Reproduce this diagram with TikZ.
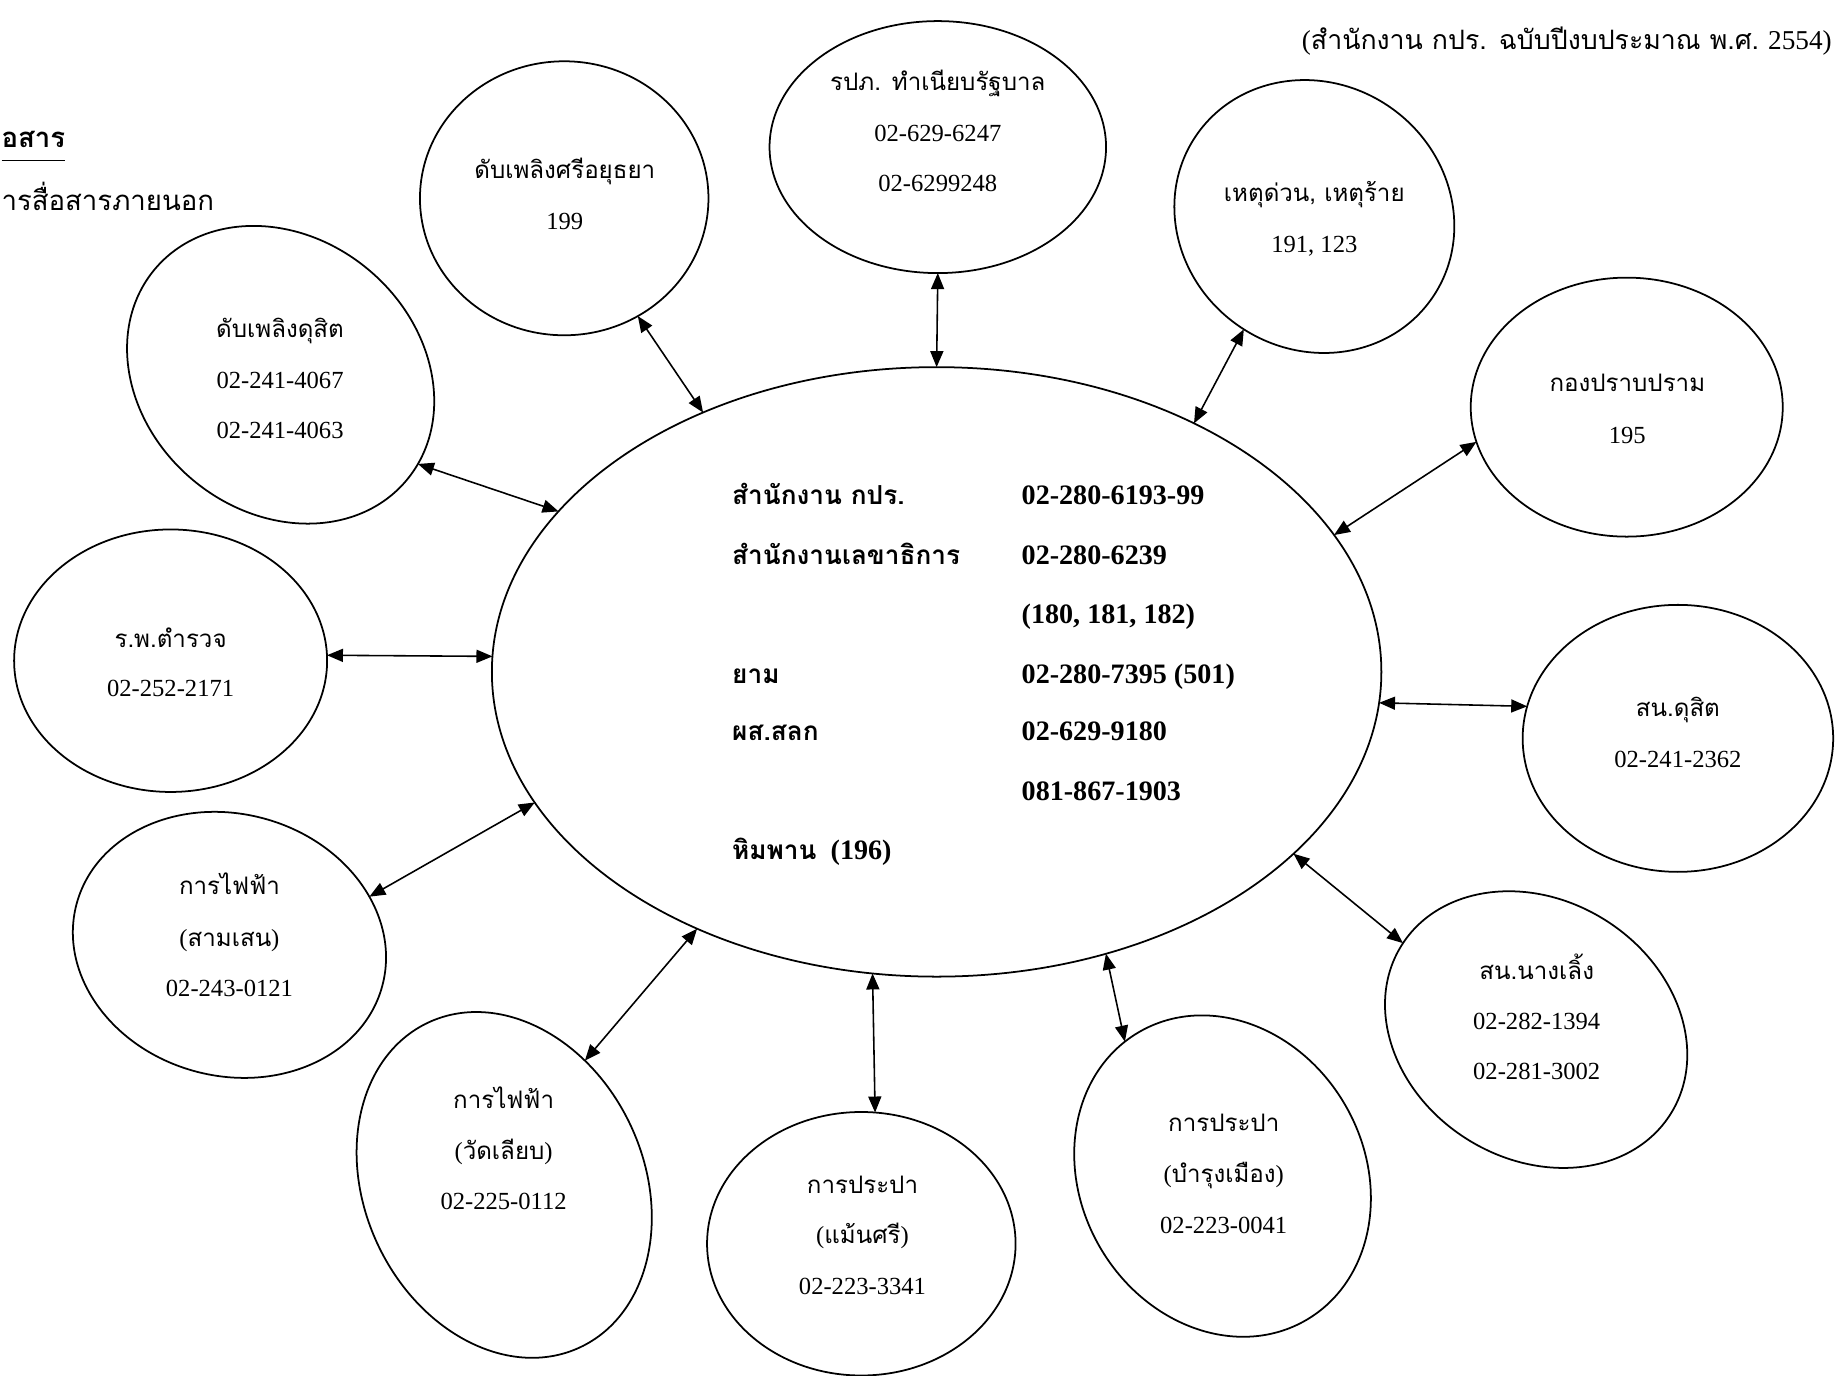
\documentclass[tikz,border=0pt]{standalone}
\usepackage{fontspec}
\setmainfont{Liberation Serif}
\newfontfamily\thaifont[Script=Thai,Scale=0.98]{Loma}
\newcommand\tha[1]{{\thaifont #1}}
\newcommand\thb[1]{{\fontsize{15.2}{18}\selectfont\thaifont #1}}
\usetikzlibrary{shapes.geometric,arrows.meta}
\begin{document}
\begin{tikzpicture}[x=0.23533mm,y=-0.23533mm,
  oval/.style={draw, ellipse, line width=1pt, inner sep=0pt, outer sep=0pt},
  conn/.style={line width=0.9pt, {Triangle[length=3.2mm,width=2.6mm]}-{Triangle[length=3.2mm,width=2.6mm]}},
  lbl/.style={inner sep=0pt, anchor=base, font=\fontsize{14}{16}\selectfont},
  big/.style={inner sep=0pt, anchor=base west, font=\bfseries\fontsize{16}{19}\selectfont}]
\useasboundingbox (0,0) rectangle (1568,1168.6);

% ellipses
\node[oval, minimum width=177.9mm, minimum height=121.9mm] (C) at (796,571) {};
\node[oval, minimum width=65.7mm, minimum height=54.8mm, rotate=-40] (E1) at (238.5,318.5) {};
\node[oval, minimum width=57.7mm, minimum height=54.8mm] (E2) at (479.5,168.5) {};
\node[oval, minimum width=67.3mm, minimum height=50.4mm] (E3) at (797,125) {};
\node[oval, minimum width=57.3mm, minimum height=53.2mm, rotate=-35] (E4) at (1117,184) {};
\node[oval, minimum width=62.4mm, minimum height=51.8mm] (E5) at (1382.5,346) {};
\node[oval, minimum width=62.1mm, minimum height=53.4mm] (E6) at (1426,627.5) {};
\node[oval, minimum width=63.5mm, minimum height=51.8mm, rotate=-32] (E7) at (1305.5,875) {};
\node[oval, minimum width=66.6mm, minimum height=56.7mm, rotate=-60] (E8) at (1039,999.5) {};
\node[oval, minimum width=61.7mm, minimum height=52.7mm] (E9) at (732,1057) {};
\node[oval, minimum width=71.7mm, minimum height=55.9mm, rotate=-65] (E10) at (428.5,1007) {};
\node[oval, minimum width=63.3mm, minimum height=52.4mm, rotate=-15] (E11) at (195,803) {};
\node[oval, minimum width=62.6mm, minimum height=52.5mm] (E12) at (145,561.5) {};

% connectors
\draw[conn] (E1.7) -- (C.157);
\draw[conn] (E2.-58) -- (C.132);
\draw[conn] (E3.-90) -- (C.90);
\draw[conn] (E4.-87) -- (C.44);
\draw[conn] (E5.193) -- (C.19);
\draw[conn] (E6.168) -- (C.-4);
\draw[conn] (E7.179) -- (C.-27);
\draw[conn] (E8.186) -- (C.-59);
\draw[conn] (E9.84) -- (C.-102);
\draw[conn] (E10.122) -- (C.-133);
\draw[conn] (E11.34) -- (C.198);
\draw[conn] (E12.2) -- (C.178);

% small ellipse texts
\node[lbl] (t1a) at (238,287) {\tha{ดับเพลิงดุสิต}};
\node[lbl] (t1b) at (238,330) {02-241-4067};
\node[lbl] (t1c) at (238,373) {02-241-4063};
\node[lbl] (t2a) at (480,152) {\tha{ดับเพลิงศรีอยุธยา}};
\node[lbl] (t2b) at (480,195) {199};
\node[lbl] (t3a) at (797,77) {\tha{รปภ. ทำเนียบรัฐบาล}};
\node[lbl] (t3b) at (797,120) {02-629-6247};
\node[lbl] (t3c) at (797,163) {02-6299248};
\node[lbl] (t4a) at (1117,171) {\tha{เหตุด่วน, เหตุร้าย}};
\node[lbl] (t4b) at (1117,215) {191, 123};
\node[lbl] (t5a) at (1383,333) {\tha{กองปราบปราม}};
\node[lbl] (t5b) at (1383,377) {195};
\node[lbl] (t6a) at (1426,609) {\tha{สน.ดุสิต}};
\node[lbl] (t6b) at (1426,652) {02-241-2362};
\node[lbl] (t7a) at (1306,832) {\tha{สน.นางเลิ้ง}};
\node[lbl] (t7b) at (1306,875) {02-282-1394};
\node[lbl] (t7c) at (1306,917) {02-281-3002};
\node[lbl] (t8a) at (1040,962) {\tha{การประปา}};
\node[lbl] (t8b) at (1040,1005) {(\tha{บำรุงเมือง})};
\node[lbl] (t8c) at (1040,1048) {02-223-0041};
\node[lbl] (t9a) at (733,1014) {\tha{การประปา}};
\node[lbl] (t9b) at (733,1057) {(\tha{แม้นศรี})};
\node[lbl] (t9c) at (733,1100) {02-223-3341};
\node[lbl] (t10a) at (428,942) {\tha{การไฟฟ้า}};
\node[lbl] (t10b) at (428,985) {(\tha{วัดเลียบ})};
\node[lbl] (t10c) at (428,1028) {02-225-0112};
\node[lbl] (t11a) at (195,760) {\tha{การไฟฟ้า}};
\node[lbl] (t11b) at (195,804) {(\tha{สามเสน})};
\node[lbl] (t11c) at (195,847) {02-243-0121};
\node[lbl] (t12a) at (145,550) {\tha{ร.พ.ตำรวจ}};
\node[lbl] (t12b) at (145,592) {02-252-2171};

% central texts
\node[big] (cl1) at (622,428.5) {\thb{สำนักงาน กปร.}};
\node[big] (cl2) at (622,479.5) {\thb{สำนักงานเลขาธิการ}};
\node[big] (cl3) at (622,580.5) {\thb{ยาม}};
\node[big] (cl4) at (622,629.5) {\thb{ผส.สลก}};
\node[big] (cl5) at (622,730.5) {\thb{หิมพาน}~~(196)};
\node[big] (cr1) at (868,428.5) {02-280-6193-99};
\node[big] (cr2) at (868,479.5) {02-280-6239};
\node[big] (cr3) at (868,529.5) {(180, 181, 182)};
\node[big] (cr4) at (868,580.5) {02-280-7395 (501)};
\node[big] (cr5) at (868,629.5) {02-629-9180};
\node[big] (cr6) at (868,680.5) {081-867-1903};

% title and heading
\node[lbl, anchor=base east, font=\fontsize{15.5}{18}\selectfont] (title) at (1557,42) {(\tha{สำนักงาน กปร. ฉบับปีงบประมาณ พ.ศ.} 2554)};
\node[lbl, anchor=base west, font=\bfseries\fontsize{16}{18}\selectfont] (h1) at (1,125) {\underline{\tha{อสาร}\vrule width 0pt depth 6pt}};
\node[lbl, anchor=base west, font=\fontsize{16}{18}\selectfont] (h2) at (1,178.5) {\tha{ารสื่อสารภายนอก}};
\end{tikzpicture}
\end{document}
